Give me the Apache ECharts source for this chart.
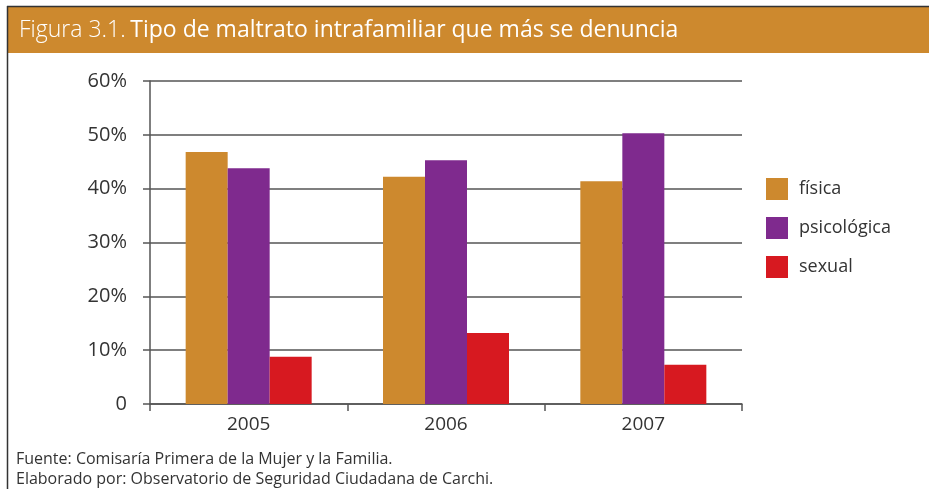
<!DOCTYPE html>
<html>
<head>
<meta charset="utf-8">
<script src="https://cdn.jsdelivr.net/npm/echarts@6/dist/echarts.min.js"></script>
<style>
  html, body { margin: 0; padding: 0; background: #fff; }
  #renderChart { width: 929px; height: 489px; }
</style>
</head>
<body>
<div id="renderChart"></div>
<script>
// data
const years = ['2005', '2006', '2007'];
const fisica = [46.8, 42.2, 41.4];
const psicologica = [43.8, 45.3, 50.3];
const sexual = [8.8, 13.2, 7.3];

const fontFam = '"Open Sans", "Noto Sans", sans-serif';

const myChart = echarts.init(document.getElementById('renderChart'));

const option = {
  backgroundColor: '#fff',
  textStyle: { fontFamily: fontFam },
  title: {
    left: 19,
    top: 19,
    padding: 0,
    text: '{a|Figura 3.1.} {b|Tipo de maltrato intrafamiliar que más se denuncia}',
    textStyle: {
      rich: {
        a: { fontSize: 23, fontWeight: 300, color: '#fff', fontFamily: fontFam },
        b: { fontSize: 23, fontWeight: 'normal', color: '#fff', fontFamily: fontFam }
      }
    }
  },
  graphic: [
    // title band
    { type: 'rect', z: -1, shape: { x: 8, y: 7, width: 921, height: 46 }, style: { fill: '#CD892E' } },
    // frame lines
    { type: 'line', shape: { x1: 7, y1: 6.5, x2: 929, y2: 6.5 }, style: { stroke: '#333', lineWidth: 1.5 } },
    { type: 'line', shape: { x1: 7.5, y1: 6, x2: 7.5, y2: 489 }, style: { stroke: '#333', lineWidth: 1.5 } },
    // source notes
    { type: 'text', left: 16, top: 451, style: { text: 'Fuente: Comisaría Primera de la Mujer y la Familia.', fill: '#333', font: '16px ' + fontFam } },
    { type: 'text', left: 16, top: 471, style: { text: 'Elaborado por: Observatorio de Seguridad Ciudadana de Carchi.', fill: '#333', font: '16px ' + fontFam } }
  ],
  legend: {
    orient: 'vertical',
    left: 766,
    top: 178,
    padding: 0,
    itemWidth: 22,
    itemHeight: 22,
    itemGap: 17,
    icon: 'rect',
    textStyle: { fontSize: 18, color: '#333', padding: [0, 0, 0, 6] },
    data: ['física', 'psicológica', 'sexual']
  },
  grid: { left: 150, right: 187, top: 81, bottom: 85 },
  xAxis: {
    type: 'category',
    data: years,
    axisLine: { lineStyle: { color: '#555', width: 1.5 } },
    axisTick: { show: true, length: 7, lineStyle: { color: '#555', width: 1.5 } },
    axisLabel: { fontSize: 19, color: '#333', margin: 11 }
  },
  yAxis: {
    type: 'value',
    min: 0,
    max: 60,
    interval: 10,
    axisLine: { show: true, lineStyle: { color: '#555', width: 1.5 } },
    axisTick: { show: true, length: 7, lineStyle: { color: '#555', width: 1.5 } },
    splitLine: { lineStyle: { color: '#555', width: 1.5 } },
    axisLabel: {
      fontSize: 20,
      color: '#333',
      margin: 23,
      formatter: function (v) { return v === 0 ? '0' : v + '%'; }
    }
  },
  series: [
    { name: 'física', type: 'bar', data: fisica, barWidth: 42, barGap: '0%', itemStyle: { color: '#CD892E' } },
    { name: 'psicológica', type: 'bar', data: psicologica, barWidth: 42, barGap: '0%', itemStyle: { color: '#7F2A8E' } },
    { name: 'sexual', type: 'bar', data: sexual, barWidth: 42, barGap: '0%', itemStyle: { color: '#D71920' } }
  ]
};

myChart.setOption(option);
</script>
</body>
</html>
